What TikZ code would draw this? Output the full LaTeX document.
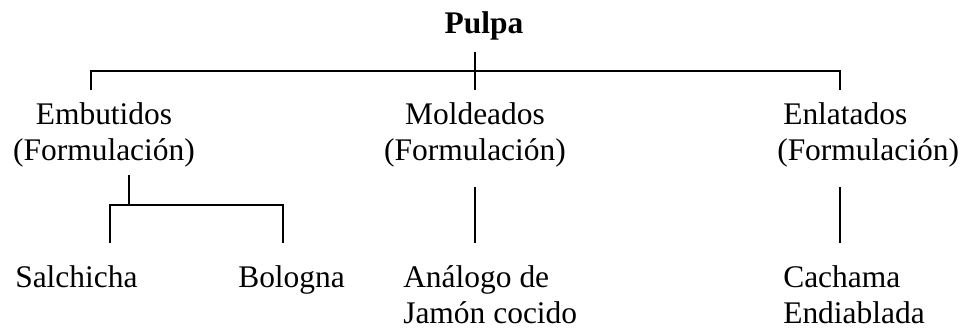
\documentclass[tikz,border=0pt]{standalone}
\usepackage{fontspec}
\setmainfont{Liberation Serif}
\begin{document}
\begin{tikzpicture}[x=0.75pt,y=-0.75pt,
  txt/.style={inner sep=0pt,font=\fontsize{23.6pt}{26.5pt}\selectfont},
  rama/.style={line width=1pt}]
  \useasboundingbox (0,0) rectangle (964,333);
  \node[txt,anchor=base,font=\fontsize{23.6pt}{26.5pt}\selectfont\bfseries] (pulpa) at (484,33) {Pulpa}; %Raiz
  \node[txt,anchor=base,align=center] (emb) at (104,160) {Embutidos\\(Formulación)};
  \node[txt,anchor=base,align=center] (mol) at (475,160) {Moldeados\\(Formulación)};
  \node[txt,anchor=base west,align=left] (enl) at (777,160) {\hspace*{4.5pt}Enlatados\\(Formulación)};
  \node[txt,anchor=base west] (sal) at (15,287) {Salchicha};
  \node[txt,anchor=base west] (bol) at (238,287) {Bologna};
  \node[txt,anchor=base west,align=left] (ana) at (403,323) {Análogo de\\Jamón cocido};
  \node[txt,anchor=base west,align=left] (cac) at (783,323) {Cachama\\Endiablada};
  \coordinate (pulpa-c) at (475,52);
  \coordinate (barra) at (475,71);
  \coordinate (emb-in) at (91,90);
  \coordinate (mol-in) at (475,90);
  \coordinate (enl-in) at (840,90);
  \draw[rama] (pulpa-c) -- (mol-in); %Tronco
  \draw[rama] (emb-in) |- (barra) -| (enl-in); %Barra alta
  \coordinate (emb-out) at (129,175);
  \coordinate (emb-j) at (129,205);
  \coordinate (sal-in) at (110,243);
  \coordinate (bol-in) at (283,243);
  \draw[rama] (emb-out) -- (emb-j);
  \draw[rama] (sal-in) |- (emb-j) -| (bol-in); %Barra embutidos
  \coordinate (mol-out) at (475,187);
  \coordinate (ana-in) at (475,243);
  \draw[rama] (mol-out) -- (ana-in);
  \coordinate (enl-out) at (840,187);
  \coordinate (cac-in) at (840,243);
  \draw[rama] (enl-out) -- (cac-in);
\end{tikzpicture}
\end{document}
